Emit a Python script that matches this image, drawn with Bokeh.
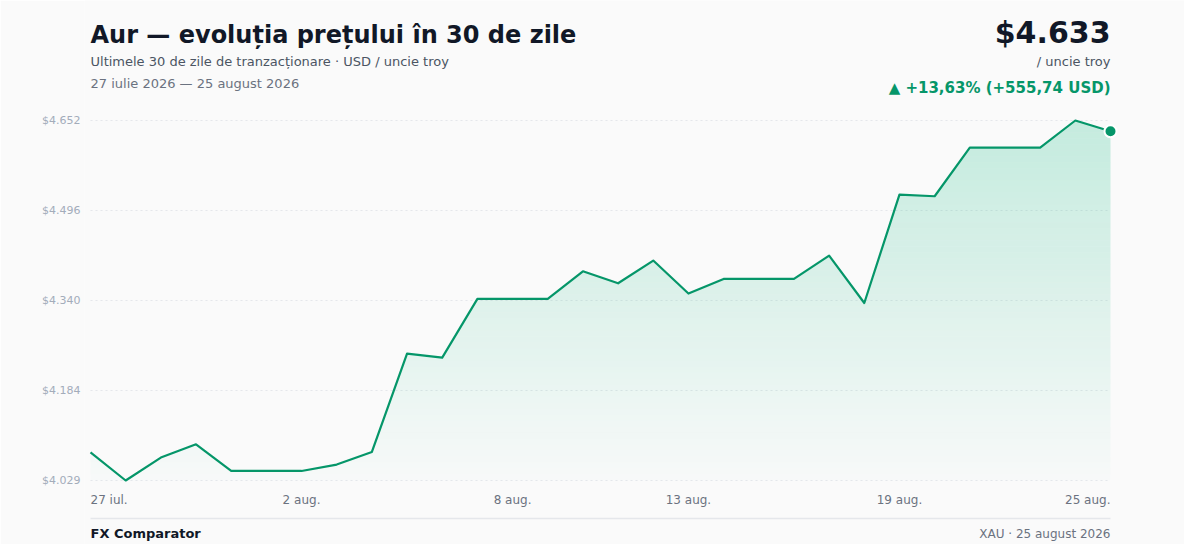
import numpy as np
from bokeh.plotting import figure
from bokeh.models import (Label, FixedTicker, CustomJSTickFormatter, ColumnDataSource)
from bokeh.core.properties import value
from bokeh.embed import file_html
from bokeh.resources import INLINE

# ---------------- data ----------------
day_index = list(range(30))
prices = [4077.26, 4028.6, 4068.3, 4091.3, 4045.1, 4045.1, 4045.1, 4056.2, 4078.0, 4248.3,
          4241.3, 4342.8, 4342.8, 4342.8, 4390.7, 4369.9, 4409.2, 4352.1, 4377.4, 4377.4,
          4377.4, 4417.9, 4335.8, 4523.4, 4520.5, 4604.8, 4604.8, 4604.8, 4651.6, 4633.0]
tick_positions = [0, 6, 12, 17, 23, 29]
tick_labels = ["27 iul.", "2 aug.", "8 aug.", "13 aug.", "19 aug.", "25 aug."]

title_text = "Aur \u2014 evolu\u021bia pre\u021bului \u00een 30 de zile"
subtitle_text = "Ultimele 30 de zile de tranzac\u021bionare \u00b7 USD / uncie troy"
period_text = "27 iulie 2026 \u2014 25 august 2026"
unit_text = "/ uncie troy"
brand_text = "FX Comparator"
source_text = "XAU \u00b7 25 august 2026"

GREEN = "#059669"
FILL = "#10b981"
BG = "#fafafa"
FONT = "DejaVu Sans"

# ---------------- geometry ----------------
W, H = 1184, 544
LEFT = 84                      # border for y axis
FW = W - LEFT                  # frame width
ymin, ymax = min(prices), max(prices)
span = ymax - ymin
ppx = 1020 / 29.0              # px per day
x_start = -6 / ppx
x_end = 29 + (FW - 1026) / ppx
ppy = 360 / span
y_start = ymin - 64 / ppy
y_end = ymax + 120 / ppy


def X(px):
    return x_start + (px - LEFT) / ppx


def Y(py):
    return y_start + (H - py) / ppy


p = figure(width=W, height=H, output_backend="svg", toolbar_location=None,
           x_range=(x_start, x_end), y_range=(y_start, y_end),
           x_axis_type=None, min_border_left=LEFT, min_border_right=0,
           min_border_top=0, min_border_bottom=0)
p.background_fill_color = BG
p.border_fill_color = BG
p.outline_line_color = None
p.xgrid.visible = False
p.ygrid.visible = False

# y axis
yticks = [ymin + k * span / 4 for k in range(5)]
ax = p.yaxis[0]
ax.ticker = FixedTicker(ticks=yticks)
ax.formatter = CustomJSTickFormatter(code="""
const v = Math.round(tick);
return '$' + Math.floor(v / 1000) + '.' + String(v % 1000).padStart(3, '0');
""")
ax.axis_line_color = None
ax.major_tick_line_color = None
ax.minor_tick_line_color = None
ax.major_tick_out = 0
ax.major_tick_in = 0
ax.major_label_standoff = 4
ax.major_label_text_font = FONT
ax.major_label_text_font_size = "11px"
ax.major_label_text_color = "#a3acba"

# grid lines (dotted, spanning data range)
p.segment(x0=[day_index[0]] * 5, x1=[day_index[-1]] * 5, y0=yticks, y1=yticks,
          line_color="#e5e7eb", line_width=1, line_dash="2 3")

# gradient area: horizontal bands, exact clipping of the polyline
xs = np.array(day_index, dtype=float)
ys = np.array(prices, dtype=float)
NB = 60
levels = np.linspace(ymin, ymax, NB + 1)


def crossings(level):
    out = []
    for i in range(len(xs) - 1):
        a, b = ys[i] - level, ys[i + 1] - level
        if a * b < 0:
            out.append(xs[i] + (xs[i + 1] - xs[i]) * a / (a - b))
    return out


cross = {k: crossings(levels[k]) for k in range(NB + 1)}
for k in range(NB):
    lo, hi = levels[k], levels[k + 1]
    xx = np.unique(np.concatenate([xs, cross[k], cross[k + 1]]))
    cc = np.interp(xx, xs, ys)
    top = np.clip(cc, lo, hi)
    frac = (0.5 * (lo + hi) - ymin) / span
    alpha = 0.01 + 0.22 * frac
    p.varea(x=xx, y1=np.full_like(xx, lo), y2=top, fill_color=FILL, fill_alpha=alpha)

# line
p.line(day_index, prices, line_color=GREEN, line_width=2.2, line_join="round")
p.scatter([day_index[-1]], [prices[-1]], size=12, fill_color=GREEN,
          line_color="white", line_width=2)

# x tick labels
aligns = ["left"] + ["center"] * (len(tick_positions) - 2) + ["right"]
src = ColumnDataSource(dict(x=tick_positions, y=[Y(499)] * len(tick_positions),
                            t=tick_labels, a=aligns))
p.text(x="x", y="y", text="t", text_align="a", text_baseline="middle", source=src,
       text_font=value(FONT), text_font_size="12px", text_color="#6b7280")

# footer separator
p.segment(x0=[day_index[0]], x1=[day_index[-1]], y0=[Y(518)], y1=[Y(518)],
          line_color="#e5e7eb", line_width=1.5)

# header numbers
last = prices[-1]
first = prices[0]
chg = last - first
pct = chg / first * 100
price_text = "$" + f"{last:,.0f}".replace(",", ".")
change_text = "\u25b2 +" + f"{pct:.2f}".replace(".", ",") + "% (+" + f"{chg:.2f}".replace(".", ",") + " USD)"


def lab(text, px, py, size, color, bold=False, align="left"):
    p.add_layout(Label(x=X(px), y=Y(py), text=text, text_font=FONT, text_font_size=size,
                       text_color=color, text_font_style="bold" if bold else "normal",
                       text_align=align, text_baseline="middle"))


lab(title_text, 90, 34, "24px", "#111827", bold=True)
lab(subtitle_text, 90, 61, "13px", "#4b5563")
lab(period_text, 90, 83, "13px", "#6b7280")
lab(price_text, 1110, 32, "30px", "#111827", bold=True, align="right")
lab(unit_text, 1110, 61, "13px", "#4b5563", align="right")
lab(change_text, 1110, 87, "15px", GREEN, bold=True, align="right")
lab(brand_text, 90, 533, "13px", "#111827", bold=True)
lab(source_text, 1110, 533, "12px", "#6b7280", align="right")

html = file_html(p, INLINE)
html = html.replace("<body>", '<body style="background:#fafafa">', 1)
open("out.html", "w").write(html)
